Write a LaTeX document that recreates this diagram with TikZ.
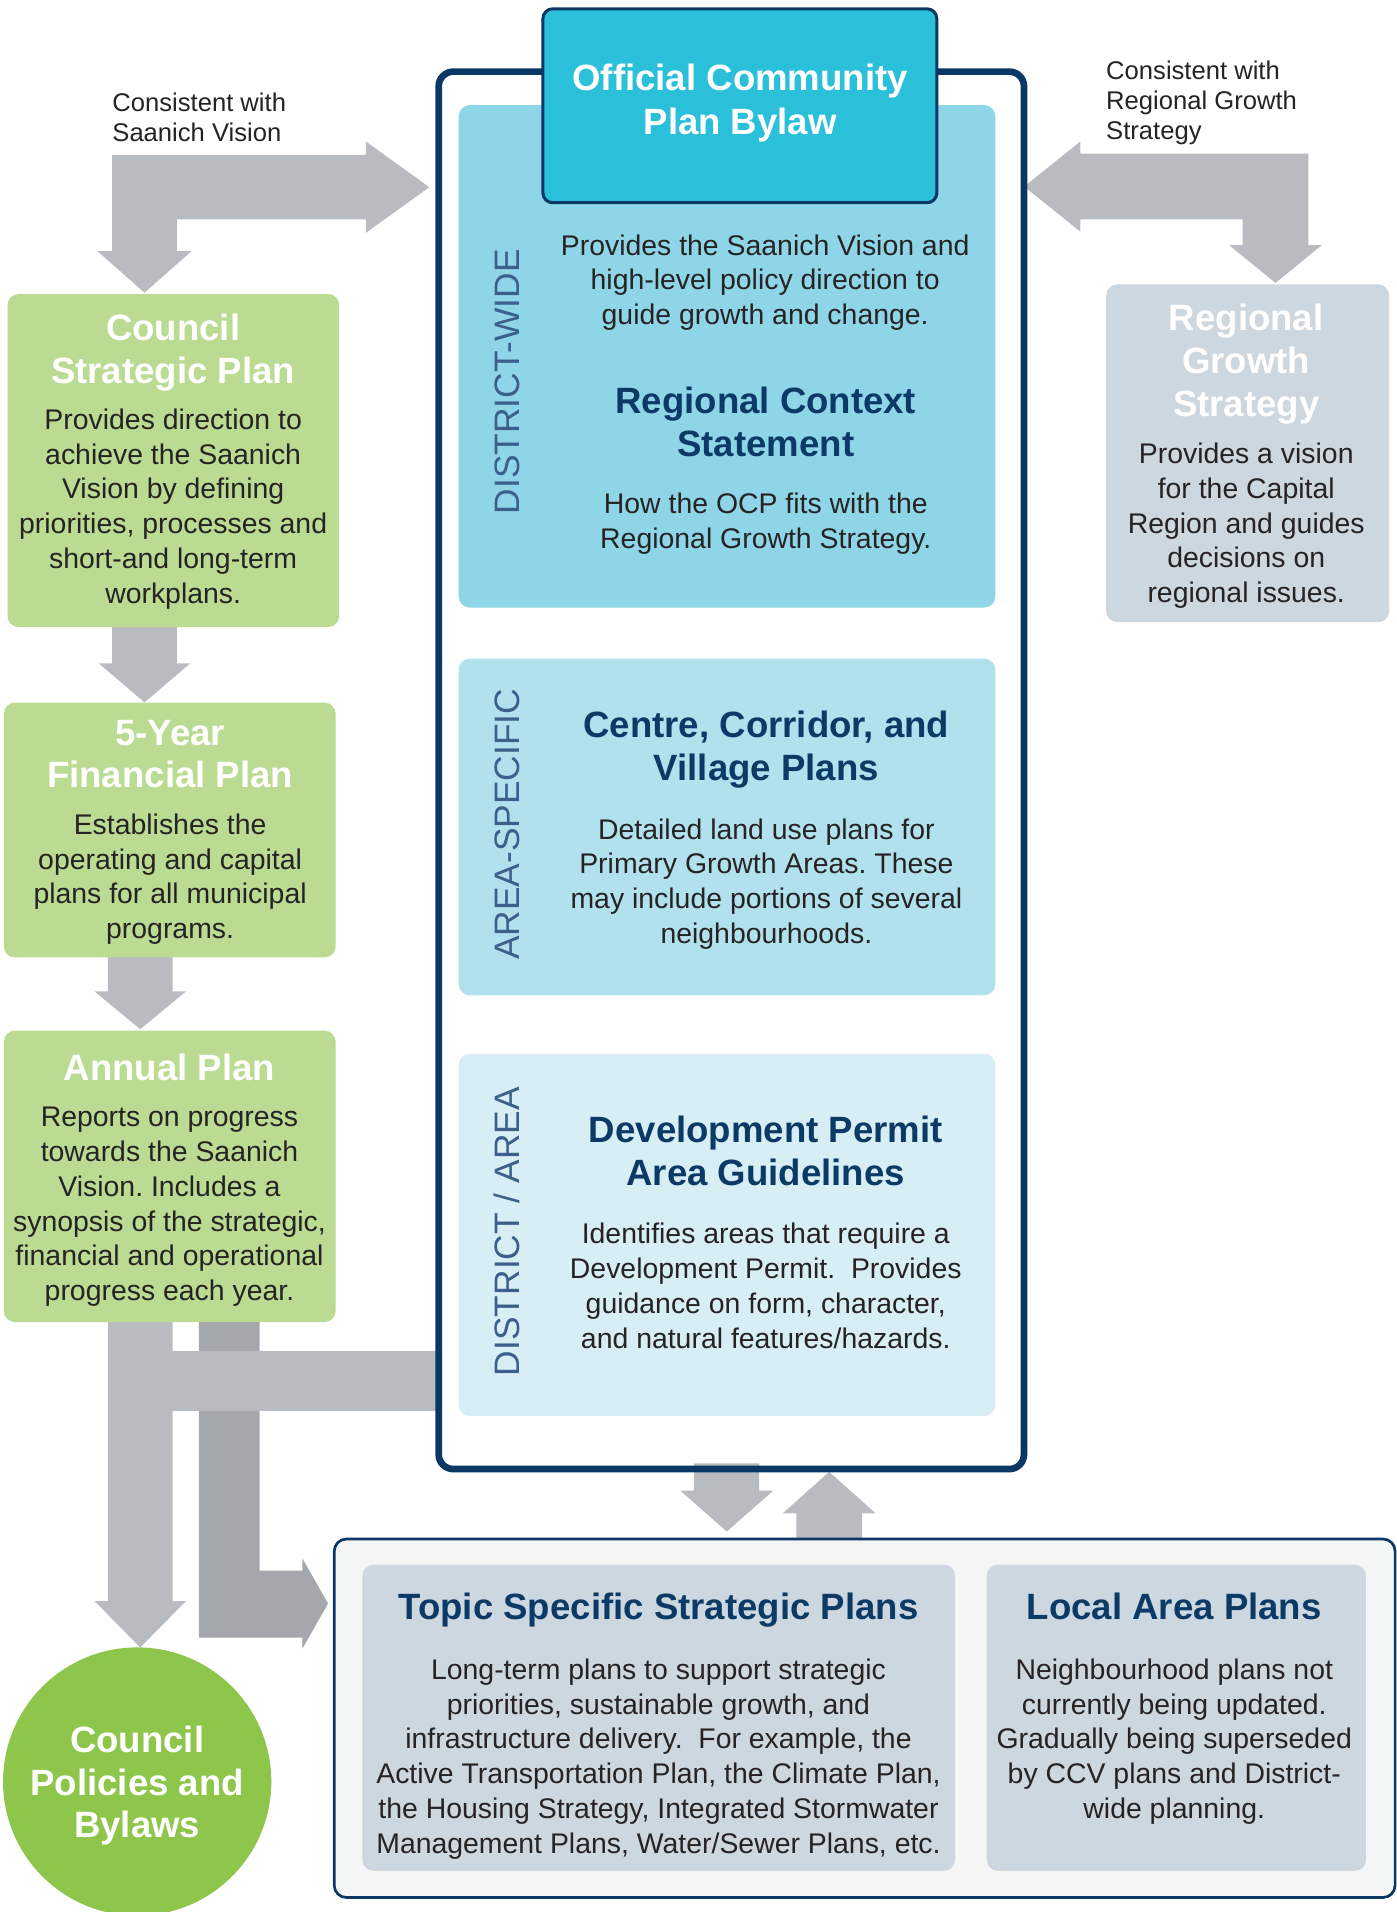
\documentclass[tikz,border=0pt]{standalone}
\usepackage{fontspec}
\setmainfont{Liberation Sans}
\definecolor{navy}{HTML}{0A3764}
\definecolor{titlenavy}{HTML}{0B3A66}
\definecolor{ocpcyan}{HTML}{2AC0DA}
\definecolor{dwblue}{HTML}{8ED5E8}
\definecolor{asblue}{HTML}{B2E1EE}
\definecolor{dablue}{HTML}{D8EEF5}
\definecolor{leaf}{HTML}{BBDB93}
\definecolor{leafdark}{HTML}{8DC64B}
\definecolor{slate}{HTML}{CDD7E0}
\definecolor{paper}{HTML}{F4F6F6}
\definecolor{arrowlight}{HTML}{B8BBBF}
\definecolor{arrowdark}{HTML}{A4A7AB}
\definecolor{ink}{HTML}{262324}
\definecolor{labelblue}{HTML}{3D5F8C}
\frenchspacing
\begin{document}
\begin{tikzpicture}[x=1pt,y=-1pt,
  box/.style={anchor=north west, inner sep=0pt, rounded corners=9pt},
  txt/.style={anchor=north, inner sep=0pt, align=center},
  bodytxt/.style={txt, text=ink, font=\fontsize{23.3}{28.5}\selectfont},
  wtitle/.style={txt, text=white, font=\fontsize{30}{35}\selectfont\bfseries},
  ntitle/.style={txt, text=titlenavy, font=\fontsize{30}{35}\selectfont\bfseries},
  sidelabel/.style={rotate=90, inner sep=0pt, text=labelblue, font=\fontsize{29}{29}\selectfont},
  note/.style={anchor=north west, inner sep=0pt, align=left, text=ink, font=\fontsize{21}{24.5}\selectfont}]
\useasboundingbox (0,0) rectangle (1145,1568);
\fill[white] (0,0) rectangle (1145,1568);

% ---------- block arrows ----------
\fill[arrowlight] (92,206) -- (92,127) -- (300,127) -- (300,116) -- (352,153.5) -- (300,191) -- (300,180) -- (145,180) -- (145,206) -- (157,206) -- (118.5,240) -- (80,206) -- cycle;
\fill[arrowlight] (840,153) -- (886,116) -- (886,126) -- (1073,126) -- (1073,201) -- (1084,201) -- (1046,232) -- (1008,201) -- (1019,201) -- (1019,180) -- (886,180) -- (886,190) -- cycle;
\fill[arrowlight] (92,512) -- (145,512) -- (145,544) -- (156,544) -- (118.5,576) -- (81,544) -- (92,544) -- cycle;
\fill[arrowlight] (88.5,783) -- (141.5,783) -- (141.5,813) -- (152.5,813) -- (115,844) -- (77.5,813) -- (88.5,813) -- cycle;
\fill[arrowdark] (163,1082) -- (213,1082) -- (213,1288) -- (248,1288) -- (248,1278) -- (269,1315) -- (248,1352) -- (248,1343) -- (163,1343) -- cycle;
\fill[arrowlight] (88.5,1082) -- (141.5,1082) -- (141.5,1108) -- (358,1108) -- (358,1157) -- (141.5,1157) -- (141.5,1313) -- (152.5,1313) -- (115,1351) -- (77.5,1313) -- (88.5,1313) -- cycle;
\fill[arrowlight] (569,1200) -- (622.5,1200) -- (622.5,1222.5) -- (634,1222.5) -- (596,1256) -- (558,1222.5) -- (569,1222.5) -- cycle;
\fill[arrowlight] (653,1263) -- (653,1241) -- (642,1241) -- (680,1207) -- (718,1241) -- (707,1241) -- (707,1263) -- cycle;

% ---------- central OCP frame ----------
\node[box, draw=navy, line width=5.5pt, rounded corners=12pt, minimum width=480, minimum height=1146] (frame) at (357,56) {};
\node[box, fill=dwblue, minimum width=440, minimum height=412] (dw) at (376,86) {};
\node[box, fill=asblue, minimum width=440, minimum height=276] (as) at (376,540) {};
\node[box, fill=dablue, minimum width=440, minimum height=297] (da) at (376,864) {};
\node[box, fill=ocpcyan, draw=navy, line width=2.5pt, rounded corners=8pt, minimum width=323, minimum height=159] (ocp) at (444,6) {};

\node[wtitle, font=\fontsize{30}{36}\selectfont\bfseries] (ocpt) at (607,48.8) {\strut Official Community\\Plan Bylaw};

\node[bodytxt] (dwbody) at (627.5,189) {\strut Provides the Saanich Vision and\\high-level policy direction to\\guide growth and change.};
\node[ntitle] (rcs) at (628,314.5) {\strut Regional Context\\Statement};
\node[bodytxt] (rcsbody) at (628,401) {\strut How the OCP fits with the\\Regional Growth Strategy.};
\node[sidelabel] (dwlabel) at (416,313) {DISTRICT-WIDE};

\node[ntitle] (ccv) at (628.5,580.5) {\strut Centre, Corridor, and\\Village Plans};
\node[bodytxt] (ccvbody) at (628.5,668) {\strut Detailed land use plans for\\Primary Growth Areas. These\\may include portions of several\\neighbourhoods.};
\node[sidelabel] (aslabel) at (416,676) {AREA-SPECIFIC};

\node[ntitle] (dpa) at (628,912.5) {\strut Development Permit\\Area Guidelines};
\node[bodytxt] (dpabody) at (628,1000) {\strut Identifies areas that require a\\Development Permit.~ Provides\\guidance on form, character,\\and natural features/hazards.};
\node[sidelabel] (dalabel) at (416,1010) {DISTRICT / AREA};

% ---------- notes ----------
\node[note] (noteleft) at (92,74) {\strut Consistent with\\Saanich Vision};
\node[note] (noteright) at (907,48) {\strut Consistent with\\Regional Growth\\Strategy};

% ---------- left column ----------
\node[box, fill=leaf, minimum width=272, minimum height=273] (csp) at (6,241) {};
\node[wtitle] (cspt) at (142,254.5) {\strut Council\\Strategic Plan};
\node[bodytxt] (cspbody) at (142,332) {\strut Provides direction to\\achieve the Saanich\\Vision by defining\\priorities, processes and\\short-and long-term\\workplans.};

\node[box, fill=leaf, minimum width=272, minimum height=209] (fin) at (3,576) {};
\node[wtitle] (fint) at (139.5,586.5) {\strut 5-Year\\Financial Plan};
\node[bodytxt] (finbody) at (139.5,664) {\strut Establishes the\\operating and capital\\plans for all municipal\\programs.};

\node[box, fill=leaf, minimum width=272, minimum height=239] (ann) at (3,845) {};
\node[wtitle] (annt) at (139,861.5) {\strut Annual Plan};
\node[bodytxt] (annbody) at (139,904) {\strut Reports on progress\\towards the Saanich\\Vision. Includes a\\synopsis of the strategic,\\financial and operational\\progress each year.};

\node[circle, fill=leafdark, minimum size=220, inner sep=0pt] (cpb) at (112.5,1461) {};
\node[wtitle] (cpbt) at (112.5,1412.5) {\strut Council\\Policies and\\Bylaws};

% ---------- regional growth strategy ----------
\node[box, fill=slate, minimum width=232, minimum height=277] (rgs) at (907,233) {};
\node[wtitle] (rgst) at (1022,246.5) {\strut Regional\\Growth\\Strategy};
\node[bodytxt] (rgsbody) at (1022,360) {\strut Provides a vision\\for the Capital\\Region and guides\\decisions on\\regional issues.};

% ---------- bottom plans ----------
\node[box, fill=paper, draw=navy, line width=2.2pt, rounded corners=10pt, minimum width=870, minimum height=294] (plans) at (273,1261) {};
\node[box, fill=slate, minimum width=486, minimum height=251] (tssp) at (297,1283) {};
\node[box, fill=slate, minimum width=311, minimum height=251] (lap) at (809,1283) {};
\node[ntitle] (tsspt) at (540,1303.5) {\strut Topic Specific Strategic Plans};
\node[bodytxt] (tsspbody) at (540,1357) {\strut Long-term plans to support strategic\\priorities, sustainable growth, and\\infrastructure delivery.~ For example, the\\Active Transportation Plan, the Climate Plan,\\the Housing Strategy, Integrated Stormwater\\Management Plans, Water/Sewer Plans, etc.};
\node[ntitle] (lapt) at (963,1303.5) {\strut Local Area Plans};
\node[bodytxt] (lapbody) at (963,1357) {\strut Neighbourhood plans not\\currently being updated.\\Gradually being superseded\\by CCV plans and District-\\wide planning.};
\end{tikzpicture}
\end{document}
